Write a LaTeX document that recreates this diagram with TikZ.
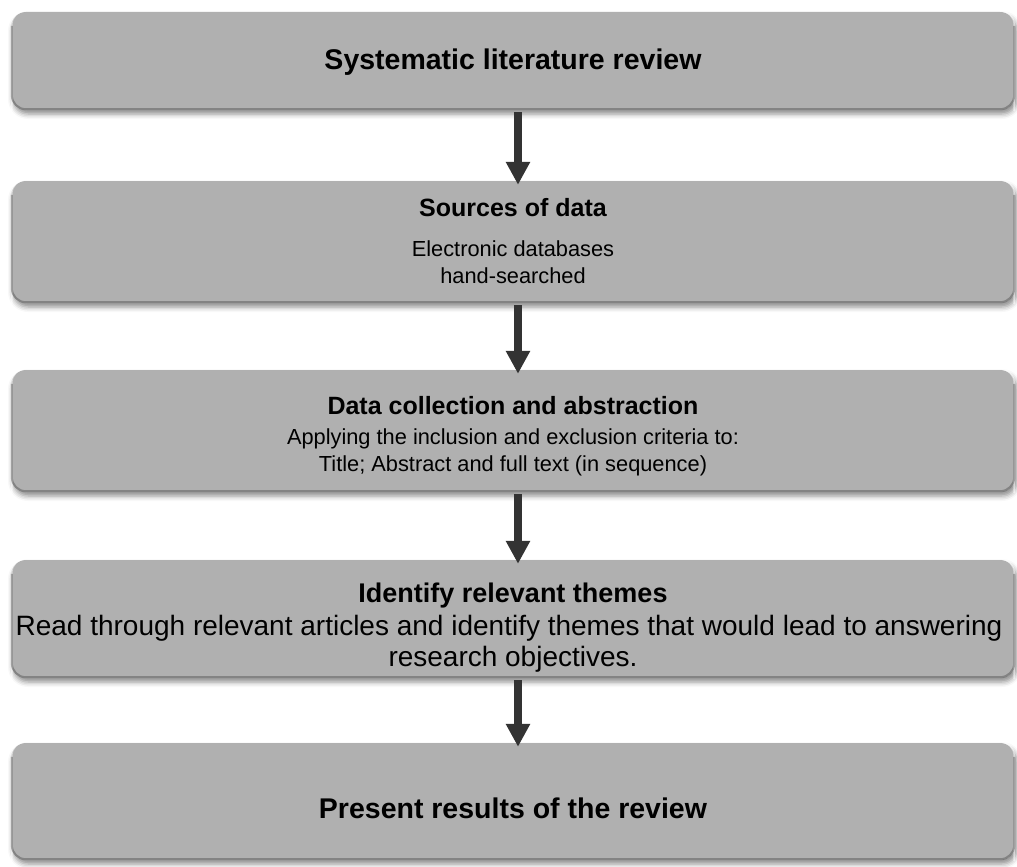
\documentclass[tikz,border=0pt]{standalone}
\usepackage{fontspec}
\setmainfont{Liberation Sans}
\usetikzlibrary{arrows.meta,shadows.blur}
\definecolor{boxgray}{HTML}{B0B0B0}
\definecolor{arrowgray}{HTML}{333333}
\tikzset{
  stepbox/.style={draw=none, fill=boxgray, rounded corners=15pt, minimum width=1004pt,
    blur shadow={shadow xshift=2pt, shadow yshift=-4pt, shadow blur radius=5pt, shadow opacity=45},
    inner sep=0pt},
  flowarrow/.style={draw=arrowgray, line width=8pt, -{Triangle[width=23pt,length=23pt]}, shorten >=-4pt, shorten <=2pt},
  bigtitle/.style={inner sep=0pt, font=\fontsize{28.5}{34}\selectfont\bfseries},
  midtitle/.style={inner sep=0pt, font=\fontsize{25}{30}\selectfont\bfseries},
  bodytext/.style={inner sep=0pt, font=\fontsize{21.8}{27}\selectfont},
  bigtitlefour/.style={inner sep=0pt, font=\fontsize{27}{32}\selectfont\bfseries},
  bodyfour/.style={inner sep=0pt, font=\fontsize{28}{33}\selectfont}
}
\begin{document}
\begin{tikzpicture}[x=1pt,y=-1pt]
\useasboundingbox (0,0) rectangle (1017,867);
\node[stepbox, minimum height=98pt] (b1) at (513,61) {};
\node[stepbox, minimum height=122pt] (b2) at (513,242) {};
\node[stepbox, minimum height=122pt] (b3) at (513,431) {};
\node[stepbox, minimum height=118pt] (b4) at (513,619) {};
\node[stepbox, minimum height=117pt] (b5) at (513,801.5) {};
% bevel highlights
\foreach \b in {b1,b2,b3,b4,b5}{
  \draw[white, opacity=0.5, line width=1.5pt, rounded corners=14pt]
    ([xshift=1pt,yshift=-1pt]\b.south west) -- ([xshift=1pt,yshift=1pt]\b.north west) -- ([xshift=-1pt,yshift=1pt]\b.north east) -- ([xshift=-1pt,yshift=-1pt]\b.south east);
  \draw[black, opacity=0.25, line width=2pt, rounded corners=14pt]
    ([xshift=1pt,yshift=-14pt]\b.north west) -- ([xshift=1pt,yshift=1pt]\b.south west) -- ([xshift=-1pt,yshift=1pt]\b.south east) -- ([xshift=-1pt,yshift=-14pt]\b.north east);
}
% texts
\node[bigtitle] (t1) at (513,62) {Systematic literature review};
\node[midtitle] (t2a) at (513,208) {Sources of data};
\node[bodytext] (t2b) at (513,249) {Electronic databases};
\node[bodytext] (t2c) at (513,276) {hand-searched};
\node[midtitle] (t3a) at (513,406) {Data collection and abstraction};
\node[bodytext] (t3b) at (513,439) {Applying the inclusion and exclusion criteria to:};
\node[bodytext] (t3c) at (513,466) {Title; Abstract and full text (in sequence)};
\node[bigtitlefour] (t4a) at (513,596) {Identify relevant themes};
\node[bodyfour] (t4b) at (509,628) {Read through relevant articles and identify themes that would lead to answering};
\node[bodyfour] (t4c) at (513,659) {research objectives.};
\node[bigtitle] (t5) at (513,808) {Present results of the review};
% connectors
\coordinate (a1s) at ([xshift=5pt]b1.south);
\coordinate (a1e) at ([xshift=5pt]b2.north);
\coordinate (a2s) at ([xshift=5pt]b2.south);
\coordinate (a2e) at ([xshift=5pt]b3.north);
\coordinate (a3s) at ([xshift=5pt]b3.south);
\coordinate (a3e) at ([xshift=5pt]b4.north);
\coordinate (a4s) at ([xshift=5pt]b4.south);
\coordinate (a4e) at ([xshift=5pt]b5.north);
\draw[flowarrow] (a1s) -- (a1e);
\draw[flowarrow] (a2s) -- (a2e);
\draw[flowarrow] (a3s) -- (a3e);
\draw[flowarrow] (a4s) -- (a4e);
\end{tikzpicture}
\end{document}
